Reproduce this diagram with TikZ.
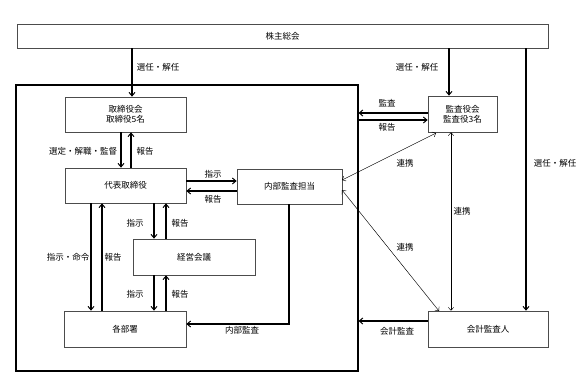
\documentclass[tikz,border=0pt]{standalone}
\usepackage{fontspec}
\setmainfont{Noto Sans CJK JP}
\usetikzlibrary{arrows.meta}
\begin{document}
\begin{tikzpicture}[x=1pt,y=-1pt,
  every node/.style={font=\fontsize{8.5}{10}\selectfont, inner sep=0pt},
  box/.style={draw=black!70, line width=0.7pt, fill=white, align=center},
  arr/.style={line width=1.1pt, -{Straight Barb[length=3.5pt,width=6pt,line width=1pt]}},
  thinarr/.style={line width=0.45pt, {Straight Barb[length=3pt,width=5.5pt]}-{Straight Barb[length=3pt,width=5.5pt]}},
  lbl/.style={fill=none}]
\useasboundingbox (0,0) rectangle (583,384);
% outer frame
\node[draw=black, line width=1.1pt, minimum width=342pt, minimum height=286pt] (outer) at (187,228) {};
% boxes
\node[box, minimum width=531pt, minimum height=24pt] (top) at (282.5,36) {株主総会};
\node[box, minimum width=121pt, minimum height=35pt] (tori) at (125.5,114.5) {取締役会\\取締役5名};
\node[box, minimum width=121pt, minimum height=35pt] (daihyo) at (125.5,185.5) {代表取締役};
\node[box, minimum width=105pt, minimum height=35pt] (naibu) at (289.5,186.5) {内部監査担当};
\node[box, minimum width=122pt, minimum height=36pt] (keiei) at (194,257) {経営会議};
\node[box, minimum width=122pt, minimum height=36pt] (kakubu) at (125,329) {各部署};
\node[box, minimum width=69pt, minimum height=36pt] (kansa) at (462.5,114) {監査役会\\監査役3名};
\node[box, minimum width=120pt, minimum height=36pt] (kaikei) at (488,329) {会計監査人};
% connectors
\draw[arr] (top.south -| 132,0) -- (tori.north -| 132,0);
\draw[arr] (top.south -| 449,0) -- (kansa.north -| 449,0);
\draw[arr] (top.south -| 526,0) -- (kaikei.north -| 526,0);
\draw[arr] (tori.south -| 121,0) -- (daihyo.north -| 121,0);
\draw[arr] (daihyo.north -| 131,0) -- (tori.south -| 131,0);
\draw[arr] (daihyo.east |- 0,181) -- (naibu.west |- 0,181);
\draw[arr] (naibu.west |- 0,191) -- (daihyo.east |- 0,191);
\draw[arr] (daihyo.south -| 91,0) -- (kakubu.north -| 91,0);
\draw[arr] (kakubu.north -| 102,0) -- (daihyo.south -| 102,0);
\draw[arr] (daihyo.south -| 154,0) -- (keiei.north -| 154,0);
\draw[arr] (keiei.north -| 166,0) -- (daihyo.south -| 166,0);
\draw[arr] (keiei.south -| 154,0) -- (kakubu.north -| 154,0);
\draw[arr] (kakubu.north -| 166,0) -- (keiei.south -| 166,0);
\draw[arr] (naibu.south -| 289,0) |- (kakubu.east |- 0,324);
\draw[arr] (kansa.west |- 0,113) -- (outer.east |- 0,113);
\draw[arr] (outer.east |- 0,120) -- (kansa.west |- 0,120);
\draw[arr] (kaikei.west |- 0,321) -- (outer.east |- 0,321);
\coordinate (k1) at (436,133);
\coordinate (n1) at (342,180);
\coordinate (n2) at (342,190);
\coordinate (a1) at (439,311);
\draw[thinarr] (k1) -- (n1);
\draw[thinarr] (n2) -- (a1);
\draw[thinarr] (kansa.south -| 451,0) -- (kaikei.north -| 451,0);
% labels
\node[lbl] (l1) at (158,67) {選任・解任};
\node[lbl] (l2) at (417,67) {選任・解任};
\node[lbl] (l3) at (555,163) {選任・解任};
\node[lbl] (l4) at (83,151) {選定・解職・監督};
\node[lbl] (l5) at (145,151) {報告};
\node[lbl] (l6) at (213,174) {指示};
\node[lbl] (l7) at (213,199) {報告};
\node[lbl] (l8) at (135,223) {指示};
\node[lbl] (l9) at (180,223) {報告};
\node[lbl] (l10) at (68,257) {指示・命令};
\node[lbl] (l11) at (113,257) {報告};
\node[lbl] (l12) at (135,294) {指示};
\node[lbl] (l13) at (180,294) {報告};
\node[lbl] (l14) at (242,330) {内部監査};
\node[lbl] (l15) at (387,103) {監査};
\node[lbl] (l16) at (387,127) {報告};
\node[lbl] (l17) at (405,163) {連携};
\node[lbl] (l18) at (462,211) {連携};
\node[lbl] (l19) at (405,247) {連携};
\node[lbl] (l20) at (397,331) {会計監査};
\end{tikzpicture}
\end{document}
